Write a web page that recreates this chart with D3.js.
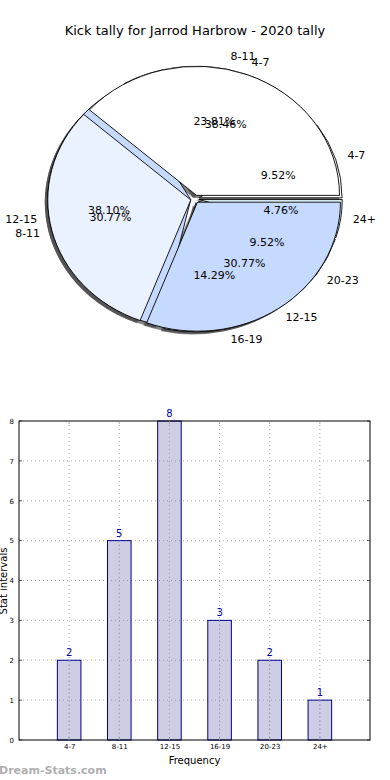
<!DOCTYPE html>
<html><head><meta charset="utf-8">
<script src="https://cdn.jsdelivr.net/npm/d3@7"></script>
<style>body{margin:0;background:#fff}svg{display:block}text{font-family:"DejaVu Sans",sans-serif}</style>
</head><body>
<svg id="c" width="390" height="780"></svg>
<script>
const title = "Kick tally for Jarrod Harbrow - 2020 tally";
const categories = ["4-7","8-11","12-15","16-19","20-23","24+"];
const tally = [2,5,8,3,2,1];
const innerCats = ["4-7","8-11","12-15"];
const innerVals = [5,4,4];
const yTicks = [0,1,2,3,4,5,6,7,8];
const pie1Colors = ["#ffffff","#ebf2ff","#c6d9ff","#ffffff","#ebf2ff","#e2f6ff"];
const pie2Colors = ["#ffffff","#ebf2ff","#c6d9ff"];

const svg = d3.select("#c");
svg.append("text").attr("x",195).attr("y",35).attr("text-anchor","middle")
  .attr("font-size",13).text(title);

// ---- Pie ----
const cx=195, cy=199, rx=143, ry=129, explode=0.03;
const pieGen = d3.pie().sort(null).startAngle(Math.PI/2).endAngle(Math.PI/2-2*Math.PI);
const arc = d3.arc().innerRadius(0).outerRadius(1);
const pie1 = pieGen(tally).map((d,i)=>({...d,label:categories[i],color:pie1Colors[i],total:d3.sum(tally)}));
const pie2 = pieGen(innerVals).map((d,i)=>({...d,label:innerCats[i],color:pie2Colors[i],total:d3.sum(innerVals)}));
function mid(d){ const a=(d.startAngle+d.endAngle)/2; return Math.PI/2-a; }
function off(d,k,sx,sy){ const t=mid(d); return [cx+k*sx*Math.cos(t), cy-k*sy*Math.sin(t)]; }
const g = svg.append("g");
function drawShadows(p){
  g.selectAll(null).data(p).enter().append("path")
   .attr("d",arc)
   .attr("transform",d=>{const [x,y]=off(d,explode,rx,ry);return `translate(${x-3},${y+2.6}) scale(${rx},${ry})`;})
   .attr("fill","#333").attr("fill-opacity",0.6).attr("stroke","none");
}
function drawWedges(p){
  g.selectAll(null).data(p).enter().append("path")
   .attr("d",arc)
   .attr("transform",d=>{const [x,y]=off(d,explode,rx,ry);return `translate(${x},${y}) scale(${rx},${ry})`;})
   .attr("fill",d=>d.color).attr("stroke","#000").attr("stroke-width",0.9)
   .attr("vector-effect","non-scaling-stroke").attr("stroke-linejoin","round");
}
function drawLabels(p){
  p.forEach(d=>{
    const t=mid(d);
    const [lx,ly]=off(d,1.1,145,132);
    g.append("text").attr("x",lx).attr("y",ly-1).attr("dy","0.35em").attr("font-size",11)
      .attr("text-anchor",Math.cos(t)>=0?"start":"end").text(d.label);
    const [px,py]=off(d,0.6,145,132);
    g.append("text").attr("x",px).attr("y",py-1).attr("dy","0.35em").attr("font-size",11)
      .attr("text-anchor","middle").text((100*d.value/d.total).toFixed(2)+"%");
  });
}
drawShadows(pie1); drawShadows(pie2);
drawWedges(pie1); drawWedges(pie2);
drawLabels(pie1); drawLabels(pie2);

// ---- Bar chart ----
const L=19,R=370,T=421,B=740;
const x = d3.scaleLinear().domain([0,categories.length+1]).range([L,R]);
const y = d3.scaleLinear().domain([0,8]).range([B,T]);
const bg = svg.append("g");
bg.selectAll(null).data(yTicks.slice(1,-1)).enter().append("line")
  .attr("x1",L).attr("x2",R).attr("y1",d=>y(d)).attr("y2",d=>y(d))
  .attr("stroke","#b0b0b0").attr("stroke-width",1).attr("stroke-dasharray","1,3");
bg.selectAll(null).data(categories).enter().append("line")
  .attr("x1",(d,i)=>x(i+1)).attr("x2",(d,i)=>x(i+1)).attr("y1",T).attr("y2",B)
  .attr("stroke","#b0b0b0").attr("stroke-width",1).attr("stroke-dasharray","1,3");
const bw = 0.47*(x(1)-x(0));
bg.selectAll(null).data(tally).enter().append("rect")
  .attr("x",(d,i)=>x(i+1)-bw/2).attr("width",bw)
  .attr("y",d=>y(d)).attr("height",d=>y(0)-y(d))
  .attr("fill","#7070b0").attr("fill-opacity",0.35).attr("stroke","#00008b").attr("stroke-width",1);
bg.selectAll(null).data(categories).enter().append("line")
  .attr("x1",(d,i)=>x(i+1)).attr("x2",(d,i)=>x(i+1)).attr("y1",(d,i)=>y(tally[i])).attr("y2",B)
  .attr("stroke","#a0a0b8").attr("stroke-width",1).attr("stroke-dasharray","1,3");
bg.selectAll(null).data(tally).enter().append("text")
  .attr("x",(d,i)=>x(i+1)).attr("y",d=>y(d)-4).attr("text-anchor","middle")
  .attr("font-size",10).attr("fill","#0000aa").text(d=>d);
bg.append("rect").attr("x",L).attr("y",T).attr("width",R-L).attr("height",B-T)
  .attr("fill","none").attr("stroke","#000").attr("stroke-width",1);
const xa = d3.axisBottom(x).tickValues(d3.range(1,categories.length+1))
  .tickFormat(i=>categories[i-1]).tickSize(0).tickPadding(4);
bg.append("g").attr("transform",`translate(0,${B})`).call(xa)
  .call(s=>s.select(".domain").remove())
  .selectAll("text").attr("font-size",7).attr("font-family","DejaVu Sans").attr("fill","#000");
const ya = d3.axisLeft(y).tickValues(yTicks).tickFormat(d3.format("d")).tickSize(0).tickPadding(5);
bg.append("g").attr("transform",`translate(${L},0)`).call(ya)
  .call(s=>s.select(".domain").remove())
  .selectAll("text").attr("font-size",7).attr("font-family","DejaVu Sans").attr("fill","#000");
yTicks.forEach(v=>{
  bg.append("line").attr("x1",L).attr("x2",L+3).attr("y1",y(v)).attr("y2",y(v)).attr("stroke","#000").attr("stroke-width",0.6);
  bg.append("line").attr("x1",R-3).attr("x2",R).attr("y1",y(v)).attr("y2",y(v)).attr("stroke","#000").attr("stroke-width",0.6);
});
categories.forEach((c,i)=>{
  bg.append("line").attr("x1",x(i+1)).attr("x2",x(i+1)).attr("y1",T).attr("y2",T+3).attr("stroke","#999").attr("stroke-width",0.8);
  bg.append("line").attr("x1",x(i+1)).attr("x2",x(i+1)).attr("y1",B-3).attr("y2",B).attr("stroke","#999").attr("stroke-width",0.8);
});
bg.append("text").attr("x",(L+R)/2).attr("y",764).attr("text-anchor","middle").attr("font-size",10).text("Frequency");
bg.append("text").attr("transform","translate(7,581) rotate(-90)").attr("text-anchor","middle")
  .attr("font-size",10).text("Stat intervals");
svg.append("text").attr("x",-1).attr("y",774).attr("font-size",11).attr("font-weight","bold")
  .attr("fill","#999").attr("fill-opacity",0.8).text("Dream-Stats.com");
</script>
</body></html>
